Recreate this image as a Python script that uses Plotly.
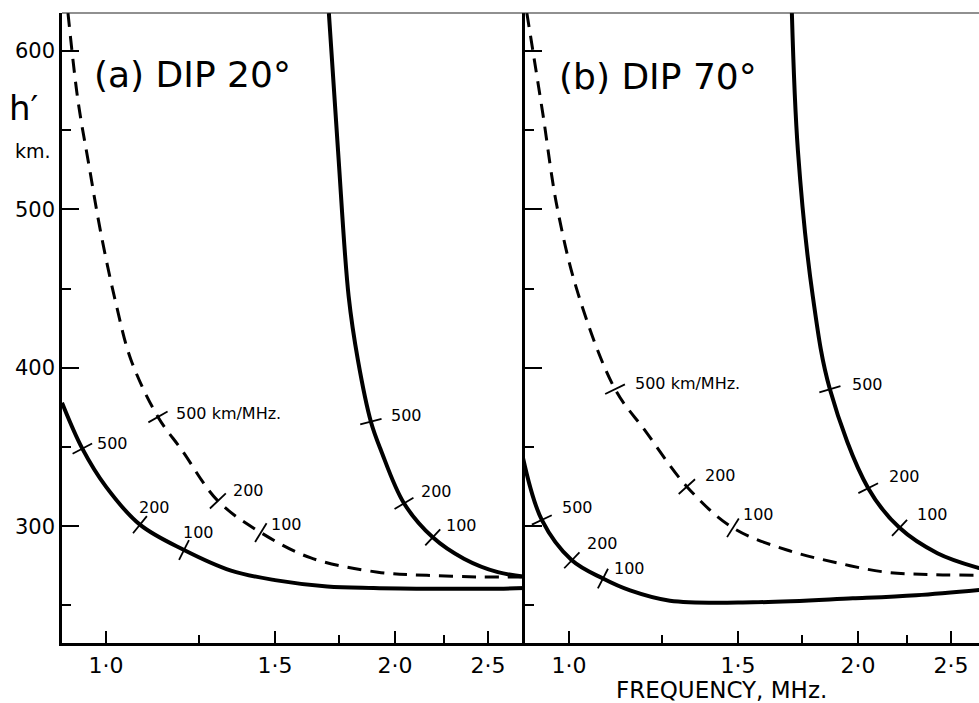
import numpy as np
import plotly.graph_objects as go

FONT = "DejaVu Sans"

# ---------------- data ----------------
freq_ticks = [1.0, 1.5, 2.0, 2.5]
freq_ticktext = ["1·0", "1·5", "2·0", "2·5"]
freq_minor = [1.25, 1.75, 2.25]
h_ticks = [300, 400, 500, 600]
h_ticktext = ["300", "400", "500", "600"]
h_minor = [250, 350, 450, 550]

# panel (a) DIP 20°
a_o_f = [0.900, 0.945, 1.000, 1.085, 1.206, 1.350, 1.500, 1.700, 1.900, 2.200, 2.500, 2.750]
a_o_h = [378, 349, 325, 301, 285, 272, 266, 262, 261, 260.5, 260.5, 261]
a_z_f = [0.913, 0.935, 0.960, 0.988, 1.024, 1.062, 1.133, 1.200, 1.308, 1.450, 1.635, 1.920, 2.160, 2.450, 2.750]
a_z_h = [624, 569, 528, 485, 441, 405, 369, 348, 316, 296, 280, 271, 269, 268, 268]
a_x_f = [1.707, 1.745, 1.790, 1.830, 1.888, 1.934, 2.044, 2.190, 2.360, 2.560, 2.750]
a_x_h = [624, 537, 445, 405, 366, 348, 314.5, 293, 279.5, 271, 268]

a_mark_curve = ["o", "o", "o", "z", "z", "z", "x", "x", "x"]
a_mark_f = [0.945, 1.085, 1.206, 1.133, 1.308, 1.450, 1.888, 2.044, 2.190]
a_mark_text = ["500", "200", "100", "500 km/MHz.", "200", "100", "500", "200", "100"]

# panel (b) DIP 70°
b_o_f = [0.895, 0.937, 1.007, 1.085, 1.158, 1.274, 1.555, 1.976, 2.300, 2.750]
b_o_h = [344, 304, 278.5, 267, 259.5, 253, 252, 254.5, 256.5, 260.5]
b_z_f = [0.904, 0.939, 0.972, 1.022, 1.117, 1.200, 1.327, 1.482, 1.687, 1.900, 2.140, 2.400, 2.750]
b_z_h = [624, 561, 501.5, 447, 386.5, 360.5, 325, 299, 285, 277, 271, 269.5, 269]
b_x_f = [1.707, 1.732, 1.795, 1.870, 2.050, 2.210, 2.420, 2.660, 2.750]
b_x_h = [624, 537, 445, 386.5, 324, 299, 283, 274, 272]

b_mark_curve = ["o", "o", "o", "z", "z", "z", "x", "x", "x"]
b_mark_f = [0.937, 1.007, 1.085, 1.117, 1.327, 1.482, 1.870, 2.050, 2.210]
b_mark_text = ["500", "200", "100", "500 km/MHz.", "200", "100", "500", "200", "100"]

# label offsets from each mark (pixels: right, up)  -- style only
a_label_dx = [13, -3, -3, 16, 13, 8, 18, 15, 11]
a_label_dy = [5, 17, 18, 3, 10, 8, 6, 12, 12]
b_label_dx = [18, 13, 9, 18, 16, 8, 20, 19, 15]
b_label_dy = [12, 17, 10, 6, 11, 13, 5, 12, 13]

# ---------------- layout geometry ----------------
W, H = 979, 703
ML, MR, MT, MB = 62, 0, 13, 60
SPLIT_PX = 525
PLOT_W = W - ML - MR
PLOT_H = H - MT - MB
DOM_SPLIT = (SPLIT_PX - ML) / PLOT_W
PX_PER_DECADE = 960.0
F_MIN = 0.9
H_RANGE = [226.3, 624.0]

xr_a = [np.log10(F_MIN), np.log10(F_MIN) + (SPLIT_PX - ML) / PX_PER_DECADE]
xr_b = [np.log10(F_MIN), np.log10(F_MIN) + (W - MR - SPLIT_PX) / PX_PER_DECADE]
KX = PX_PER_DECADE
KY = PLOT_H / (H_RANGE[1] - H_RANGE[0])

MARK_HALF = 11  # px
fig = go.Figure()

panels = [
    dict(xa="x", ya="y",
         curves={"o": (a_o_f, a_o_h, "solid"), "z": (a_z_f, a_z_h, "dash"), "x": (a_x_f, a_x_h, "solid")},
         mc=a_mark_curve, mf=a_mark_f, mt=a_mark_text, ldx=a_label_dx, ldy=a_label_dy),
    dict(xa="x2", ya="y2",
         curves={"o": (b_o_f, b_o_h, "solid"), "z": (b_z_f, b_z_h, "dash"), "x": (b_x_f, b_x_h, "solid")},
         mc=b_mark_curve, mf=b_mark_f, mt=b_mark_text, ldx=b_label_dx, ldy=b_label_dy),
]

annotations = []
for p in panels:
    for key, (fs, hs, style) in p["curves"].items():
        fig.add_trace(go.Scatter(
            x=fs, y=hs, mode="lines", xaxis=p["xa"], yaxis=p["ya"],
            line=dict(color="black", width=4 if style == "solid" else 3,
                      dash="solid" if style == "solid" else "14px,9px",
                      shape="spline", smoothing=1.0),
            hoverinfo="skip"))
    mx, my = [], []
    for ck, f0, txt, dx, dy in zip(p["mc"], p["mf"], p["mt"], p["ldx"], p["ldy"]):
        fs, hs, _ = p["curves"][ck]
        X = KX * np.log10(np.array(fs))
        Y = KY * np.array(hs)
        i = int(np.argmin(np.abs(np.array(fs) - f0)))
        i0, i1 = max(i - 1, 0), min(i + 1, len(fs) - 1)
        tx, ty = X[i1] - X[i0], Y[i1] - Y[i0]
        n = np.hypot(tx, ty)
        nx, ny = -ty / n, tx / n
        if ny < 0:
            nx, ny = -nx, -ny
        x0p, y0p = X[i] - nx * MARK_HALF, Y[i] - ny * MARK_HALF
        x1p, y1p = X[i] + nx * MARK_HALF, Y[i] + ny * MARK_HALF
        mx += [10 ** (x0p / KX), 10 ** (x1p / KX), None]
        my += [y0p / KY, y1p / KY, None]
        annotations.append(dict(
            x=X[i] / KX, y=hs[i], xref=p["xa"], yref=p["ya"],
            text=txt, showarrow=False, xanchor="left", yanchor="middle",
            xshift=dx, yshift=dy,
            font=dict(family=FONT, size=16, color="black")))
    fig.add_trace(go.Scatter(x=mx, y=my, mode="lines", xaxis=p["xa"], yaxis=p["ya"],
                             line=dict(color="black", width=1.8), hoverinfo="skip"))


def px2paper(px, py):
    return (px - ML) / PLOT_W, (H - MB - py) / PLOT_H


for txt, (px, py), size in [("(a) DIP 20°", (92, 74), 36),
                            ("(b) DIP 70°", (557, 77), 36)]:
    xx, yy = px2paper(px, py)
    annotations.append(dict(x=xx, y=yy, xref="paper", yref="paper", text=txt,
                            showarrow=False, xanchor="left", yanchor="middle",
                            font=dict(family=FONT, size=size, color="black")))

for txt, (px, py), size in [("h′", (23, 108), 34), ("km.", (33, 151), 19),
                            ("FREQUENCY, MHz.", (721, 690), 23)]:
    xx, yy = px2paper(px, py)
    annotations.append(dict(x=xx, y=yy, xref="paper", yref="paper", text=txt,
                            showarrow=False, xanchor="center", yanchor="middle",
                            font=dict(family=FONT, size=size, color="black")))

common_x = dict(type="log", tickmode="array", tickvals=freq_ticks, ticktext=freq_ticktext,
                ticks="inside", ticklen=12, tickwidth=2, tickcolor="black",
                showline=True, linewidth=2.5, linecolor="black", showgrid=False,
                zeroline=False, tickfont=dict(family=FONT, size=22, color="black"),
                ticklabelstandoff=1,
                minor=dict(tickmode="array", tickvals=freq_minor, ticks="inside",
                           ticklen=8, tickwidth=2, tickcolor="black", showgrid=False))
common_y = dict(range=H_RANGE, tickmode="array", tickvals=h_ticks, ticktext=h_ticktext,
                ticks="inside", ticklen=17, tickwidth=2, tickcolor="black",
                showline=True, linewidth=2.5, linecolor="black", showgrid=False,
                zeroline=False, tickfont=dict(family=FONT, size=21, color="black"),
                minor=dict(tickmode="array", tickvals=h_minor, ticks="inside",
                           ticklen=9, tickwidth=2, tickcolor="black", showgrid=False))

fig.update_layout(
    width=W, height=H, margin=dict(l=ML, r=MR, t=MT, b=MB),
    plot_bgcolor="white", paper_bgcolor="white", showlegend=False,
    xaxis=dict(common_x, domain=[0, DOM_SPLIT], range=xr_a, anchor="y"),
    yaxis=dict(common_y, domain=[0, 1], anchor="x"),
    xaxis2=dict(common_x, domain=[DOM_SPLIT, 1], range=xr_b, anchor="y2"),
    yaxis2=dict(common_y, domain=[0, 1], anchor="x2", showticklabels=False),
    annotations=annotations,
    shapes=[dict(type="line", xref="paper", yref="paper", x0=0, x1=1, y0=1, y1=1,
                 line=dict(color="#222", width=1.2))],
)

fig.write_html("out.html")
